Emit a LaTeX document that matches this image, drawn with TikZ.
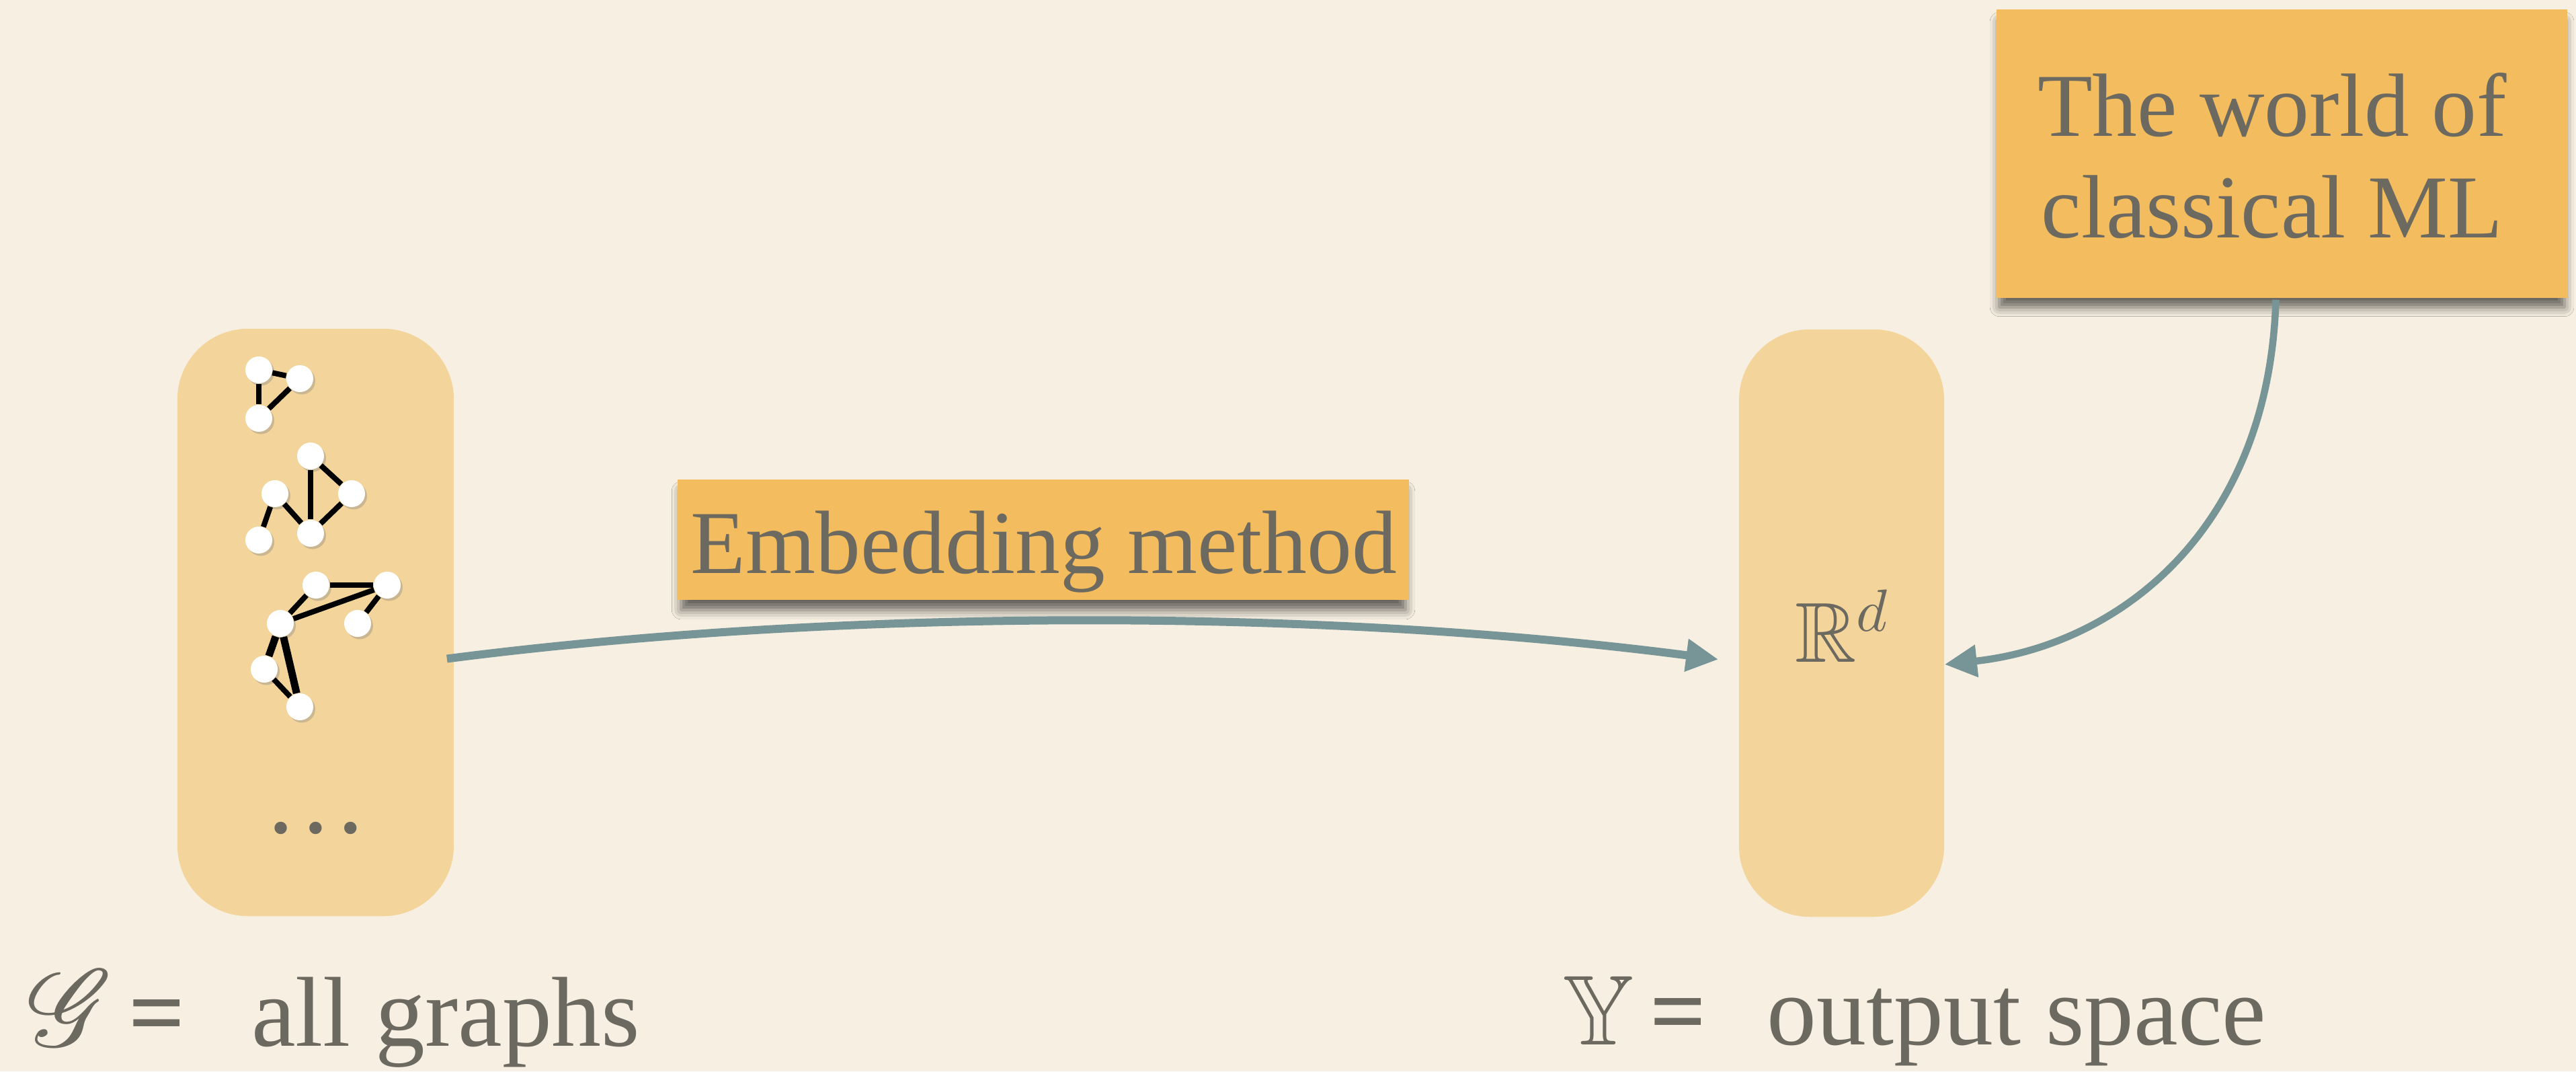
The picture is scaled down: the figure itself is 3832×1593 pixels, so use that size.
\documentclass[tikz,border=0pt]{standalone}
\usepackage{amssymb}
\DeclareFontFamily{U}{rsfs}{\skewchar\font127 }
\DeclareFontShape{U}{rsfs}{m}{n}{<-> rsfs10}{}
\usepackage{mathrsfs}
\DeclareFontShape{OML}{cmm}{m}{it}{<-> cmmi10}{}
\DeclareFontShape{OMS}{cmsy}{m}{n}{<-> cmsy10}{}
\usepackage{fontspec}
\setmainfont{Liberation Serif}
\usetikzlibrary{arrows.meta,calc,shadows,shadows.blur}
\definecolor{bgc}{HTML}{F7F0E2}
\definecolor{panelc}{HTML}{F3D59B}
\definecolor{notec}{HTML}{F3BD5F}
\definecolor{inkc}{HTML}{6C6960}
\definecolor{arrowc}{HTML}{779497}
\newcommand\notesize{\fontsize{38}{43}\selectfont}
\newcommand\labsize{\fontsize{42}{48}\selectfont}
\begin{document}
\begin{tikzpicture}[x=0.01cm,y=-0.01cm,
  panelbox/.style={rectangle,fill=panelc,draw=none,rounded corners=1.05cm,inner sep=0pt},
  notebox/.style={rectangle,fill=notec,draw=none,inner sep=0pt,
    blur shadow={shadow xshift=0cm,shadow yshift=-0.16cm,shadow blur radius=0.14cm,shadow opacity=60,shadow scale=0.99}},
  notetext/.style={text=inkc,font=\notesize,inner sep=0pt},
  labtext/.style={text=inkc,font=\labsize,inner sep=0pt},
  gnode/.style={circle,fill=white,draw=none,inner sep=0pt,minimum size=0.4cm,
    drop shadow={shadow xshift=0.03cm,shadow yshift=-0.035cm,opacity=0.35}},
  gedge/.style={line width=0.08cm,black},
  gedgethick/.style={line width=0.11cm,black},
  arr/.style={draw=arrowc,line width=0.12cm,-{Triangle[length=0.48cm,width=0.46cm]}}
]
\fill[bgc] (0,0) rectangle (3832,1593);
\useasboundingbox (0,0) rectangle (3832,1593);

% panels
\node[panelbox,minimum width=4.11cm,minimum height=8.73cm] (gpanel) at (469.5,925.5) {};
\node[panelbox,minimum width=3.05cm,minimum height=8.73cm] (ypanel) at (2739.5,926.5) {};

% graph 1
\node[gnode] (a1) at (385,550) {};
\node[gnode] (a2) at (446,563) {};
\node[gnode] (a3) at (385,622) {};
\draw[gedge] (a1) -- (a2);
\draw[gedge] (a1) -- (a3);
\draw[gedge] (a2) -- (a3);

% graph 2
\node[gnode] (b1) at (462,678) {};
\node[gnode] (b2) at (523,734) {};
\node[gnode] (b3) at (409,734) {};
\node[gnode] (b4) at (462,793) {};
\node[gnode] (b5) at (385,803) {};
\draw[gedge] (b1) -- (b4);
\draw[gedge] (b1) -- (b2);
\draw[gedge] (b2) -- (b4);
\draw[gedge] (b3) -- (b4);
\draw[gedge] (b3) -- (b5);

% graph 3
\node[gnode] (c1) at (470,870) {};
\node[gnode] (c2) at (576,870) {};
\node[gnode] (c3) at (417,927) {};
\node[gnode] (c4) at (532,927) {};
\node[gnode] (c5) at (393,995) {};
\node[gnode] (c6) at (446,1051) {};
\draw[gedge] (c1) -- (c2);
\draw[gedge] (c3) -- (c1);
\draw[gedge] (c3) -- (c2);
\draw[gedge] (c2) -- (c4);
\draw[gedgethick] (c3) -- (c5);
\draw[gedgethick] (c3) -- (c6);
\draw[gedge] (c5) -- (c6);

% dots
\node[notetext,anchor=base,font=\fontsize{44}{48}\selectfont] (dots) at (470,1238) {\dots};

% R^d
\node[text=inkc,inner sep=0pt,anchor=base,font=\fontsize{36}{40}\selectfont] (rd) at (2740,984) {$\mathbb{R}^{d}$};

% notes
\node[notebox,minimum width=10.88cm,minimum height=1.79cm] (embnote) at (1552,802.5) {};
\node[notetext,anchor=base] (embtext) at (1553,852) {Embedding method};

\node[notebox,minimum width=8.49cm,minimum height=4.29cm] (mlnote) at (3394.5,228.5) {};
\node[notetext,anchor=base] (mltext1) at (3380,202) {The world of};
\node[notetext,anchor=base] (mltext2) at (3380,353) {classical ML};

% arrows
\draw[arr] ($(gpanel.east)+(-11,54)$) .. controls (1250,904) and (1970,904) .. ($(ypanel.west)+(-30,54)$);
\draw[arr,line width=0.105cm] ($(mlnote.south)+(-9,2)$) .. controls (3375,790) and (3150,960) .. ($(ypanel.east)+(0,61.5)$);

% labels
\node[labtext,anchor=base west] (glabel) at (41,1555)
  {\makebox[42.7pt][l]{\fontsize{46}{50}\selectfont$\mathscr{G}$}\makebox[51.8pt][l]{\bfseries =}all graphs};
\node[labtext,anchor=base west] (ylabel) at (2324,1553)
  {\makebox[37pt][l]{$\mathbb{Y}$}\makebox[49.5pt][l]{\bfseries =}output space};
\end{tikzpicture}
\end{document}
